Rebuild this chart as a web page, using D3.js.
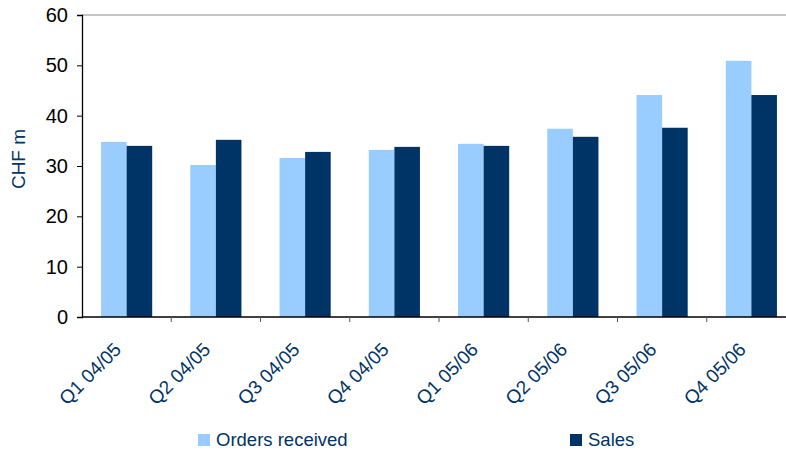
<!DOCTYPE html>
<html><head><meta charset="utf-8">
<script src="https://cdn.jsdelivr.net/npm/d3@7"></script>
<style>
html,body{margin:0;padding:0;background:#fff;}
svg{display:block;font-family:"Liberation Sans",Arial,sans-serif;}
</style></head>
<body>
<svg id="chart" width="786" height="451"></svg>
<script>
const categories = ["Q1 04/05","Q2 04/05","Q3 04/05","Q4 04/05","Q1 05/06","Q2 05/06","Q3 05/06","Q4 05/06"];
const ordersReceived = [34.8, 30.2, 31.6, 33.2, 34.4, 37.4, 44.1, 50.9];
const sales = [34.0, 35.2, 32.8, 33.8, 34.0, 35.8, 37.6, 44.1];
const seriesNames = ["Orders received", "Sales"];
const yTicks = [0, 10, 20, 30, 40, 50, 60];
const yLabel = "CHF m";

const colors = ["#99ccff", "#003366"];
const textBlue = "#003366";

(function () {
const svg = d3.select("#chart");
const mLeft = 82, mRight = 796, mTop = 15, mBottom = 317;

const x = d3.scaleBand().domain(categories).range([mLeft, mRight]).paddingInner(0.427).paddingOuter(0.2135);
const xFull = d3.scaleBand().domain(categories).range([mLeft, mRight]);
const x1 = d3.scaleBand().domain([0, 1]).range([0, x.bandwidth()]);
const y = d3.scaleLinear().domain([0, 60]).range([mBottom, mTop]);

// top border line
svg.append("line").attr("x1", mLeft).attr("x2", mRight).attr("y1", y(60)).attr("y2", y(60))
  .attr("stroke", "#8c8c8c").attr("stroke-width", 1);

// bars
const data = categories.map((c, i) => ({c, vals: [ordersReceived[i], sales[i]]}));
const g = svg.append("g");
data.forEach(d => {
  d.vals.forEach((v, k) => {
    g.append("rect")
      .attr("x", x(d.c) + x1(k))
      .attr("width", x1.bandwidth())
      .attr("y", y(v))
      .attr("height", y(0) - y(v))
      .attr("fill", colors[k]);
  });
});

// y axis
const yAxis = d3.axisLeft(y).tickValues(yTicks).tickSize(5).tickPadding(9);
const ya = svg.append("g").attr("transform", `translate(${mLeft},0)`).call(yAxis);
ya.select(".domain").attr("stroke", "#000").attr("stroke-width", 1.3);
ya.selectAll(".tick line").attr("stroke", "#000");
ya.selectAll(".tick text").attr("font-size", 20).attr("fill", "#000")
  .attr("font-family", "Liberation Sans, Arial, sans-serif");

// x axis
const xa = svg.append("g").attr("transform", `translate(0,${mBottom})`);
xa.append("line").attr("x1", mLeft).attr("x2", mRight).attr("y1", 0).attr("y2", 0)
  .attr("stroke", "#000").attr("stroke-width", 1.3);
const boundaries = categories.map(c => xFull(c)).concat([mRight]);
xa.selectAll(".xt").data(boundaries.slice(1)).enter().append("line")
  .attr("x1", d => d).attr("x2", d => d).attr("y1", 0).attr("y2", 5)
  .attr("stroke", "#555");
xa.selectAll(".xl").data(categories).enter().append("text")
  .attr("transform", d => `translate(${xFull(d) + xFull.bandwidth()/2 - 9},${29}) rotate(-45)`)
  .attr("text-anchor", "end")
  .attr("dy", "0.35em")
  .attr("font-size", 19)
  .attr("fill", textBlue)
  .text(d => d);

// y label
svg.append("text")
  .attr("transform", `translate(25,159) rotate(-90)`)
  .attr("text-anchor", "middle")
  .attr("font-size", 19)
  .attr("fill", textBlue)
  .text(yLabel);

// legend
const legendX = [198, 570];
seriesNames.forEach((n, k) => {
  svg.append("rect").attr("x", legendX[k]).attr("y", 434).attr("width", 12).attr("height", 12)
    .attr("fill", colors[k]);
  svg.append("text").attr("x", legendX[k] + 18).attr("y", 446)
    .attr("font-size", 18.5).attr("fill", textBlue).text(n);
});
})();
</script>
</body></html>
